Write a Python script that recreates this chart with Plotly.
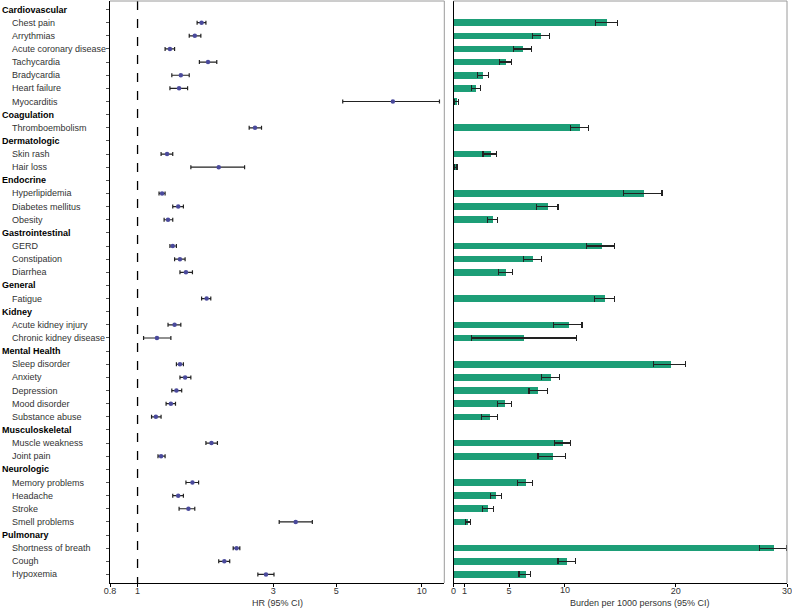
import plotly.graph_objects as go
import math

# ---------------- data ----------------
groups = ["Cardiovascular", "Coagulation", "Dermatologic", "Endocrine", "Gastrointestinal",
          "General", "Kidney", "Mental Health", "Musculoskeletal", "Neurologic", "Pulmonary"]
group_sizes = [7, 1, 2, 3, 3, 1, 2, 5, 2, 4, 3]

outcomes = ["Chest pain", "Arrythmias", "Acute coronary disease", "Tachycardia", "Bradycardia",
            "Heart failure", "Myocarditis",
            "Thromboembolism",
            "Skin rash", "Hair loss",
            "Hyperlipidemia", "Diabetes mellitus", "Obesity",
            "GERD", "Constipation", "Diarrhea",
            "Fatigue",
            "Acute kidney injury", "Chronic kidney disease",
            "Sleep disorder", "Anxiety", "Depression", "Mood disorder", "Substance abuse",
            "Muscle weakness", "Joint pain",
            "Memory problems", "Headache", "Stroke", "Smell problems",
            "Shortness of breath", "Cough", "Hypoxemia"]

hr = [1.68, 1.59, 1.30, 1.77, 1.42, 1.40, 7.91,
      2.59,
      1.27, 1.93,
      1.22, 1.39, 1.28,
      1.33, 1.41, 1.48,
      1.75,
      1.35, 1.17,
      1.41, 1.47, 1.37, 1.31, 1.16,
      1.82, 1.21,
      1.56, 1.39, 1.51, 3.60,
      2.23, 2.02, 2.83]
hr_lo = [1.62, 1.52, 1.25, 1.65, 1.32, 1.30, 5.27,
         2.47,
         1.21, 1.54,
         1.19, 1.33, 1.24,
         1.30, 1.35, 1.41,
         1.68,
         1.28, 1.05,
         1.37, 1.41, 1.32, 1.26, 1.12,
         1.74, 1.18,
         1.48, 1.33, 1.40, 3.15,
         2.17, 1.93, 2.65]
hr_hi = [1.74, 1.67, 1.35, 1.90, 1.52, 1.50, 11.54,
         2.73,
         1.33, 2.38,
         1.25, 1.45, 1.33,
         1.37, 1.47, 1.56,
         1.81,
         1.42, 1.31,
         1.45, 1.54, 1.43, 1.36, 1.21,
         1.91, 1.25,
         1.64, 1.45, 1.59, 4.12,
         2.29, 2.11, 3.02]

burden = [13.8, 7.8, 6.2, 4.7, 2.6, 2.0, 0.3,
          11.35,
          3.3, 0.22,
          17.1, 8.5, 3.5,
          13.3, 7.1, 4.7,
          13.6,
          10.3, 6.3,
          19.5, 8.7, 7.6, 4.55, 3.2,
          9.8, 8.9,
          6.5, 3.8, 3.1, 1.26,
          28.8, 10.2, 6.45]
burden_lo = [12.8, 7.1, 5.4, 4.15, 2.15, 1.65, 0.12,
             10.55,
             2.65, 0.1,
             15.3, 7.45, 3.05,
             11.95, 6.3, 4.05,
             12.65,
             9.0, 1.6,
             18.0, 7.9, 6.8, 3.95, 2.5,
             9.05, 7.6,
             5.75, 3.3, 2.6, 1.08,
             27.5, 9.4, 5.9]
burden_hi = [14.75, 8.6, 7.0, 5.2, 3.15, 2.4, 0.45,
             12.15,
             3.9, 0.32,
             18.75, 9.4, 3.95,
             14.5, 7.9, 5.3,
             14.5,
             11.55, 11.05,
             20.9, 9.55, 8.45, 5.2, 3.95,
             10.55, 10.1,
             7.1, 4.3, 3.6, 1.55,
             30.0, 10.95, 6.9]

hr_ticks = [0.8, 1, 3, 5, 10]
burden_ticks = [0, 1, 5, 10, 20, 30]

# ---------------- layout of rows ----------------
row_labels = []   # (text, is_header, row_index)
outcome_rows = []
r = 0
k = 0
for g, n in zip(groups, group_sizes):
    row_labels.append((g, True, r))
    r += 1
    for _ in range(n):
        row_labels.append((outcomes[k], False, r))
        outcome_rows.append(r)
        r += 1
        k += 1
n_rows = r
yrange = [n_rows - 1 + 0.65, -0.65]

W, H = 792, 608
ML, MR, MT, MB = 110, 5, 1, 25
PW = W - ML - MR
PH = H - MT - MB
left_dom = [0, (444.3 - ML) / PW]
right_dom = [(453.5 - ML) / PW, 1]

FONT = "Liberation Sans, Arial, sans-serif"
fig = go.Figure()

# dashed reference line at HR = 1
fig.add_trace(go.Scatter(x=[1, 1], y=[yrange[1], yrange[0]], mode="lines",
                         line=dict(color="black", width=1.3, dash="dash"),
                         xaxis="x", yaxis="y", hoverinfo="skip", showlegend=False))

fig.add_trace(go.Scatter(
    x=hr, y=outcome_rows, mode="markers",
    marker=dict(color="#4a4a9c", size=4.5),
    error_x=dict(type="data", symmetric=False,
                 array=[h - m for h, m in zip(hr_hi, hr)],
                 arrayminus=[m - l for m, l in zip(hr, hr_lo)],
                 color="#222222", thickness=1.2, width=2),
    xaxis="x", yaxis="y", showlegend=False))

fig.add_trace(go.Bar(
    x=burden, y=outcome_rows, orientation="h", width=0.5,
    marker=dict(color="#1d9e77", line=dict(width=0)),
    error_x=dict(type="data", symmetric=False,
                 array=[h - m for h, m in zip(burden_hi, burden)],
                 arrayminus=[m - l for m, l in zip(burden, burden_lo)],
                 color="#222222", thickness=1.2, width=3),
    xaxis="x2", yaxis="y2", showlegend=False))

annotations = []
for text, is_header, row in row_labels:
    annotations.append(dict(
        text=f"<b>{text}</b>" if is_header else text,
        x=(0 - ML) / PW if is_header else (10 - ML) / PW,
        xref="paper", y=row, yref="y", xanchor="left", yanchor="middle",
        showarrow=False,
        font=dict(family=FONT, size=9, color="black" if is_header else "#333333")))

title_y = -(603 - (H - MB)) / PH
annotations.append(dict(text="HR (95% CI)", x=(277 - ML) / PW, xref="paper",
                        y=title_y, yref="paper",
                        xanchor="center", yanchor="middle", showarrow=False,
                        font=dict(family=FONT, size=9, color="#333333")))
annotations.append(dict(text="Burden per 1000 persons (95% CI)", x=(640 - ML) / PW, xref="paper",
                        y=title_y, yref="paper",
                        xanchor="center", yanchor="middle", showarrow=False,
                        font=dict(family=FONT, size=9, color="#333333")))
# label of the 10 tick on the burden axis, placed at the axis value
annotations.append(dict(text=str(burden_ticks[3]), x=burden_ticks[3], xref="x2",
                        y=-(590 - (H - MB)) / PH, yref="paper",
                        xanchor="center", yanchor="middle", showarrow=False,
                        font=dict(family=FONT, size=9, color="#333333")))
burden_ticktext = [str(t) if t != burden_ticks[3] else "" for t in burden_ticks]

shapes = []
for xr, yr in (("x domain", "y domain"), ("x2 domain", "y2 domain")):
    shapes.append(dict(type="line", xref=xr, yref=yr, x0=0, x1=1, y0=1, y1=1,
                       line=dict(color="#9a9a9a", width=1)))
    shapes.append(dict(type="line", xref=xr, yref=yr, x0=1, x1=1, y0=0, y1=1,
                       line=dict(color="#9a9a9a", width=1)))

tickfont = dict(family=FONT, size=9, color="#333333")
fig.update_layout(
    template="none",
    width=W, height=H,
    margin=dict(l=ML, r=MR, t=MT, b=MB, autoexpand=False),
    paper_bgcolor="white", plot_bgcolor="white",
    font=dict(family=FONT, size=9, color="#333333"),
    bargap=0,
    xaxis=dict(domain=left_dom, type="log",
               range=[math.log10(0.8), math.log10(12)],
               tickmode="array", tickvals=hr_ticks, ticktext=[str(t) for t in hr_ticks],
               ticks="outside", ticklen=3, tickcolor="black", ticklabelstandoff=-4,
               showline=True, linecolor="black", linewidth=1.2, automargin=False,
               showgrid=False, zeroline=False, tickfont=tickfont, anchor="y"),
    yaxis=dict(domain=[0, 1], range=yrange, tickmode="array", tickvals=list(range(n_rows)),
               ticktext=[""] * n_rows, ticks="outside", ticklen=3, tickcolor="#555555",
               showline=True, linecolor="black", linewidth=1.2, automargin=False,
               showgrid=False, zeroline=False, anchor="x"),
    xaxis2=dict(domain=right_dom, range=[0, 30], type="linear",
                tickmode="array", tickvals=burden_ticks,
                ticktext=burden_ticktext,
                ticks="outside", ticklen=3, tickcolor="black", ticklabelstandoff=-4,
                ticklabeloverflow="allow", tickangle=0,
                showline=True, linecolor="black", linewidth=1.2, automargin=False,
                showgrid=False, zeroline=False, tickfont=tickfont, anchor="y2"),
    yaxis2=dict(domain=[0, 1], range=yrange, showticklabels=False, ticks="",
                showline=True, linecolor="black", linewidth=1.2, automargin=False,
                showgrid=False, zeroline=False, anchor="x2"),
    annotations=annotations,
    shapes=shapes,
)

fig.write_html("out.html", config={"displayModeBar": False},
               post_script="document.body.style.margin='0';document.body.style.padding='0';")
